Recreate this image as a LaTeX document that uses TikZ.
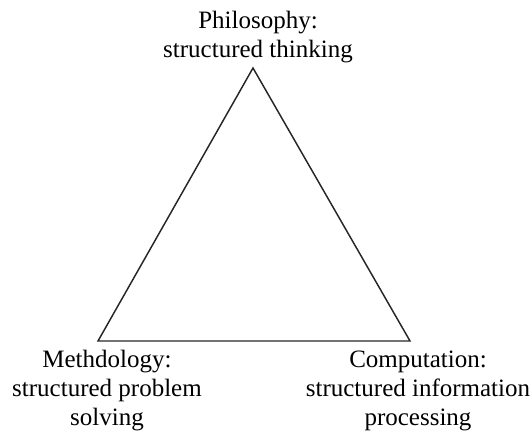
\documentclass[tikz,border=0pt]{standalone}
\usepackage{fontspec}
\setmainfont{Liberation Serif}
\begin{document}
\begin{tikzpicture}[x=0.75pt,y=-0.75pt,
  lbl/.style={align=center,inner sep=0pt,font=\fontsize{18.75}{21.75}\selectfont},
  edge/.style={draw=black!85,line width=1.1pt,line join=miter}]
\useasboundingbox (0,0) rectangle (532,434);
\coordinate (A) at (253,68);
\coordinate (B) at (98,341);
\coordinate (C) at (410,341);
\draw[edge] (A) -- (B) -- (C) -- cycle;
\node[lbl] (phil) at (258,37) {Philosophy:\\structured thinking};
\node[lbl] (meth) at (107,391) {Methdology:\\structured problem\\solving};
\node[lbl] (comp) at (418,391) {Computation:\\structured information\\processing};
\end{tikzpicture}
\end{document}
